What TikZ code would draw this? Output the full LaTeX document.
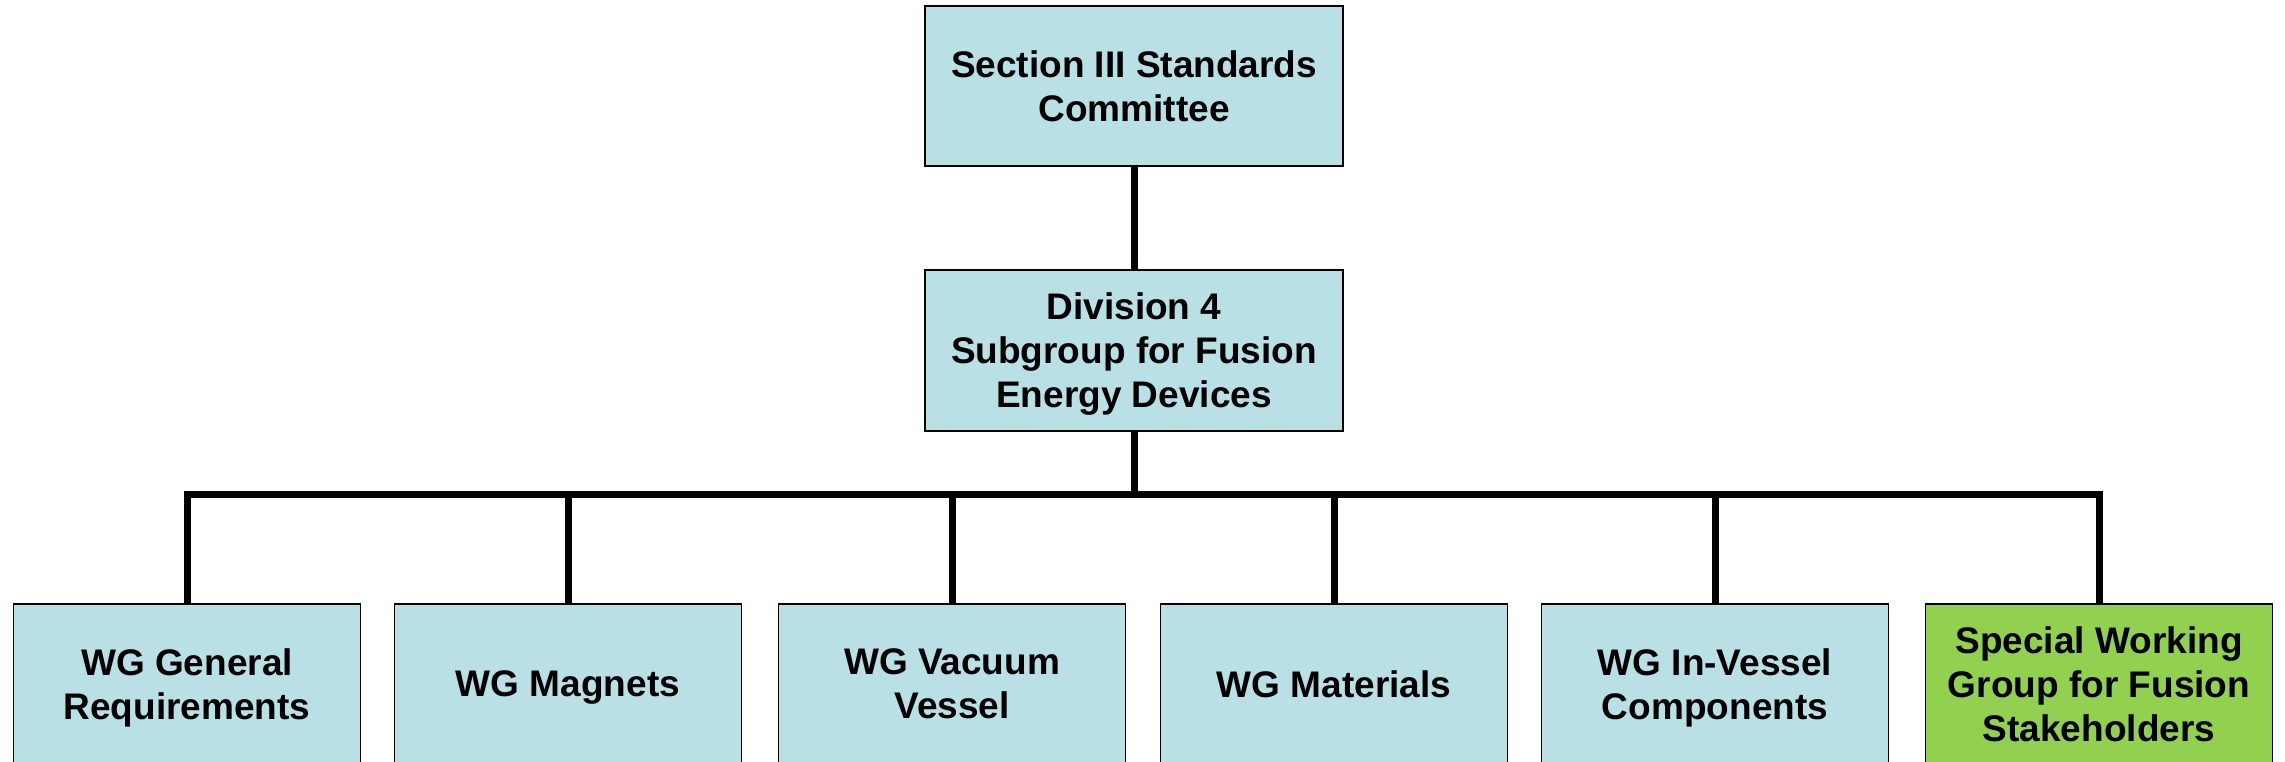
\documentclass[tikz,border=0pt]{standalone}
\usepackage{fontspec}
\setmainfont{Liberation Sans}
\definecolor{boxblue}{HTML}{B9E0E4}
\definecolor{boxgreen}{HTML}{92D050}
\begin{document}
\begin{tikzpicture}[x=1pt,y=-1pt,
  orgbox/.style={draw=black,line width=1.5pt,fill=boxblue,minimum width=418pt,minimum height=160pt,
    align=center,inner sep=0pt,text depth=0pt,font=\fontsize{37}{44}\selectfont\bfseries},
  wgbox/.style={orgbox,minimum width=347pt},
  conn/.style={line width=7pt,line join=miter,line cap=butt}]
\useasboundingbox (0,0) rectangle (2285,762);
\clip (0,0) rectangle (2285,762);
\fill[white] (0,0) rectangle (2285,762);
\node[orgbox] (top) at (1134,86) {Section III Standards\\Committee};
\node[orgbox,minimum height=161pt] (mid) at (1134,350.5) {Division 4\\Subgroup for Fusion\\Energy Devices};
\node[wgbox] (b1) at (187,684) {WG General\\Requirements};
\node[wgbox] (b2) at (568,684) {WG Magnets};
\node[wgbox] (b3) at (952,684) {WG Vacuum\\Vessel};
\node[wgbox] (b4) at (1334,684) {WG Materials};
\node[wgbox] (b5) at (1715,684) {WG In-Vessel\\Components};
\node[wgbox,fill=boxgreen] (b6) at (2099,684) {Special Working\\Group for Fusion\\Stakeholders};
\coordinate (bar) at (0,494);
\draw[conn] (top.south) -- (mid.north);
\draw[conn] (mid.south) -- (mid.south |- bar);
\draw[conn] (b1.north) -- (b1.north |- bar) -- (b6.north |- bar) -- (b6.north);
\foreach \b in {b2,b3,b4,b5} \draw[conn] (\b.north) -- (\b.north |- bar);
\end{tikzpicture}
\end{document}
